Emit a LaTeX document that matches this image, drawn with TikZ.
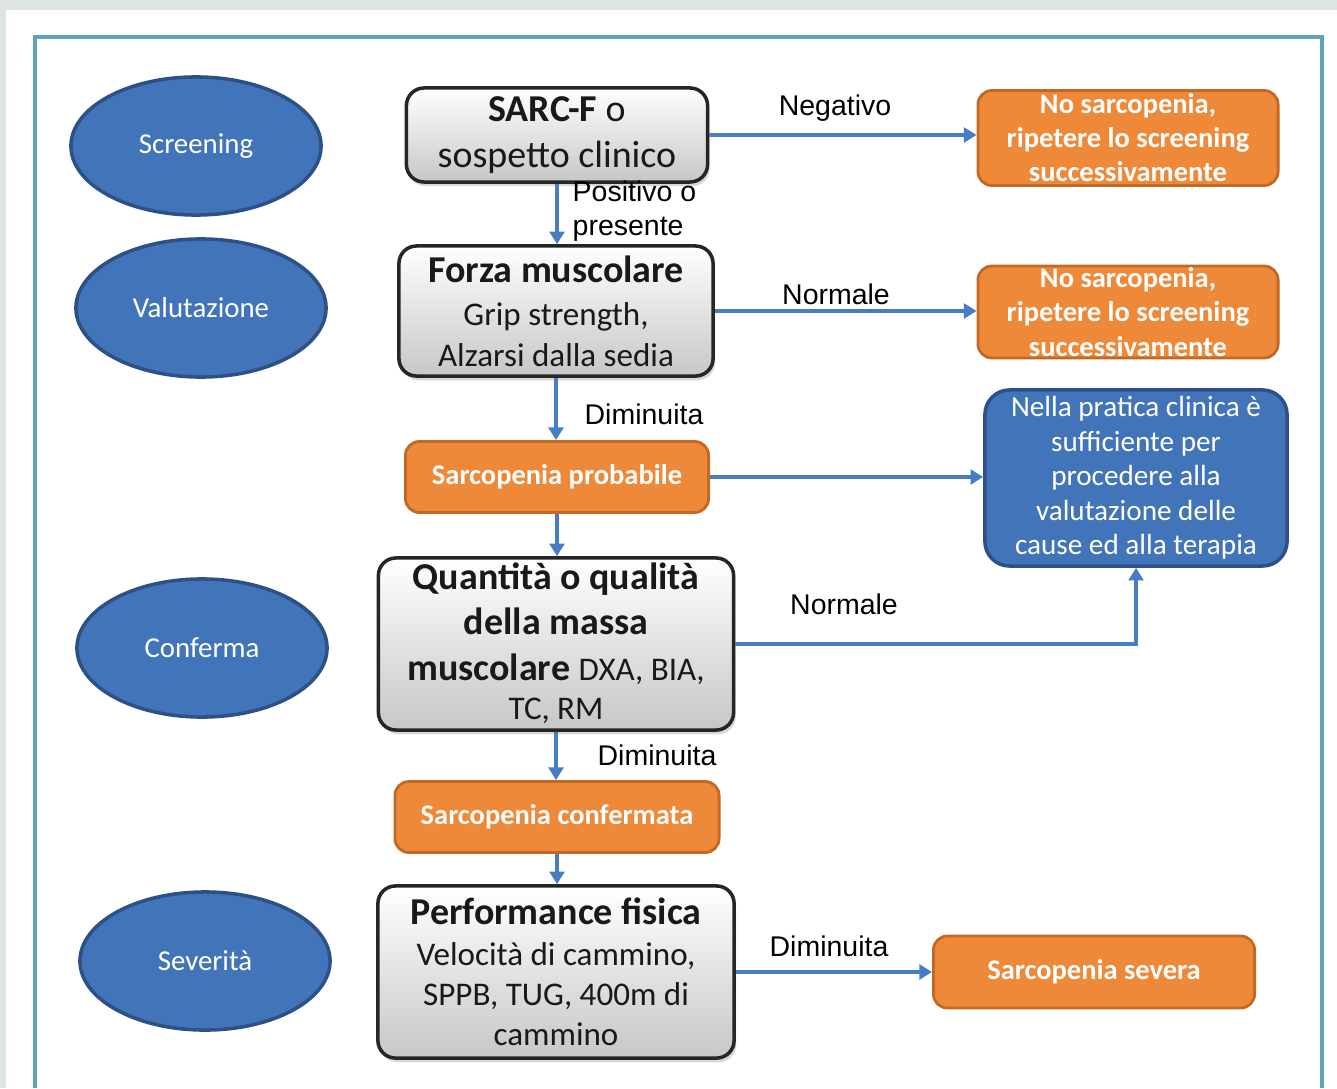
\documentclass[tikz,border=0pt]{standalone}
\usepackage{fontspec}
\setmainfont{Carlito}
\newfontfamily\labelfont{Liberation Sans}
\usetikzlibrary{shapes.geometric}
\usetikzlibrary{arrows.meta}
\usetikzlibrary{shadows}
\definecolor{phaseblue}{RGB}{66,116,186}
\definecolor{phaseedge}{RGB}{45,80,135}
\definecolor{boxorange}{RGB}{237,137,57}
\definecolor{orangeedge}{RGB}{196,105,35}
\definecolor{linkblue}{RGB}{70,125,196}
\definecolor{framecol}{RGB}{95,165,180}
\definecolor{pagegray}{RGB}{222,227,227}

\begin{document}
\begin{tikzpicture}[x=.01cm, y=-.01cm,
 phase/.style={ellipse, draw=phaseedge, line width=1pt, fill=phaseblue, text=white, inner sep=0, minimum width=2.5cm, minimum height=1.38cm, font=\fontsize{8.2}{10}\selectfont},
 testbox/.style={draw=black!85, line width=1pt, rounded corners=5pt, top color=white, bottom color=black!22, drop shadow={shadow xshift=.6pt, shadow yshift=-1.2pt, opacity=.3}, align=center, text=black!90, inner sep=0},
 resultbox/.style={draw=orangeedge, line width=.8pt, rounded corners=4pt, fill=boxorange, text=white, align=center, inner sep=0, font=\bfseries\fontsize{8.1}{9.7}\selectfont},
 link/.style={draw=linkblue, line width=1pt, -{Triangle[length=3.6pt, width=4.2pt]}},
 lbl/.style={font=\labelfont\fontsize{8.1}{9.7}\selectfont, inner sep=0}]
\useasboundingbox (0,0) rectangle (1337,1088);
\fill[pagegray] (0,0) rectangle (1337,1088);
\fill[white] (6,10) rectangle (1337,1088);
\draw[framecol, line width=1pt] (35,1088) -- (35,37) -- (1322,37) -- (1322,1088);

\node[phase] (screening) at (196,146) {Screening};
\node[phase] (valutazione) at (201,308) {Valutazione};
\node[phase] (conferma) at (202,648) {Conferma};
\node[phase] (severita) at (205,961) {Severità};

\node[testbox, minimum width=3.01cm, minimum height=.94cm, font=\fontsize{10.8}{13.3}\selectfont] (sarcf) at (557,135) {\textbf{SARC-F} o\\sospetto clinico};
\node[testbox, minimum width=3.14cm, minimum height=1.3cm, font=\fontsize{9.4}{11.4}\selectfont] (forza) at (556,311) {{\fontsize{10.8}{13}\selectfont\bfseries Forza muscolare}\\[1pt]Grip strength,\\Alzarsi dalla sedia};
\node[testbox, minimum width=3.55cm, minimum height=1.72cm, font=\bfseries\fontsize{10.8}{13}\selectfont] (massa) at (556,644) {\\[-6pt]Quantità o qualità\\della massa\\muscolare {\mdseries\fontsize{9.4}{11}\selectfont DXA, BIA,}\\[-2pt]{\mdseries\fontsize{9.4}{11}\selectfont TC, RM}};
\node[testbox, minimum width=3.56cm, minimum height=1.72cm, font=\fontsize{9.4}{11.5}\selectfont] (performance) at (556,972) {{\bfseries\fontsize{10.8}{13}\selectfont Performance fisica}\\Velocità di cammino,\\SPPB, TUG, 400m di\\cammino};

\node[resultbox, minimum width=3.03cm, minimum height=.71cm] (probabile) at (557,477) {Sarcopenia probabile};
\node[resultbox, minimum width=3.24cm, minimum height=.71cm] (confermata) at (557,817) {Sarcopenia confermata};
\node[resultbox, minimum width=3cm, minimum height=.95cm] (nosarcA) at (1128,138) {No sarcopenia,\\ripetere lo screening\\successivamente};
\node[resultbox, minimum width=3cm, minimum height=.92cm] (nosarcB) at (1128,312) {No sarcopenia,\\ripetere lo screening\\successivamente};
\node[resultbox, minimum width=3.21cm, minimum height=.72cm] (severa) at (1094,972) {Sarcopenia severa};
\node[draw=phaseedge, line width=1pt, fill=phaseblue, rounded corners=7pt, text=white, align=center, minimum width=3.02cm, minimum height=1.76cm, inner sep=0, font=\fontsize{8.3}{9.8}\selectfont] (pratica) at (1136,478) {Nella pratica clinica è\\sufficiente per\\procedere alla\\valutazione delle\\cause ed alla terapia};

\draw[link] (sarcf.east) -- (sarcf.east -| nosarcA.west);
\draw[link] (sarcf.south) -- (sarcf.south |- forza.north);
\draw[link] (forza.east) -- (forza.east -| nosarcB.west);
\draw[link] (forza.south) -- (forza.south |- probabile.north);
\draw[link] (probabile.east) -- (probabile.east -| pratica.west);
\draw[link] (probabile.south) -- (probabile.south |- massa.north);
\draw[link] (massa.east) -| (pratica.south);
\draw[link] (massa.south) -- (massa.south |- confermata.north);
\draw[link] (confermata.south) -- (confermata.south |- performance.north);
\draw[link] (performance.east) -- (performance.east -| severa.west);

\node[lbl] (negativo) at (835,108) {Negativo};
\node[lbl, anchor=west, align=left] (positivo) at (572,211) {Positivo o\\presente};
\node[lbl] (normaleA) at (836,294) {Normale};
\node[lbl] (diminuitaA) at (644,414) {Diminuita};
\node[lbl] (normaleB) at (844,604) {Normale};
\node[lbl] (diminuitaB) at (657,755) {Diminuita};
\node[lbl] (diminuitaC) at (829,946) {Diminuita};
\end{tikzpicture}
\end{document}
